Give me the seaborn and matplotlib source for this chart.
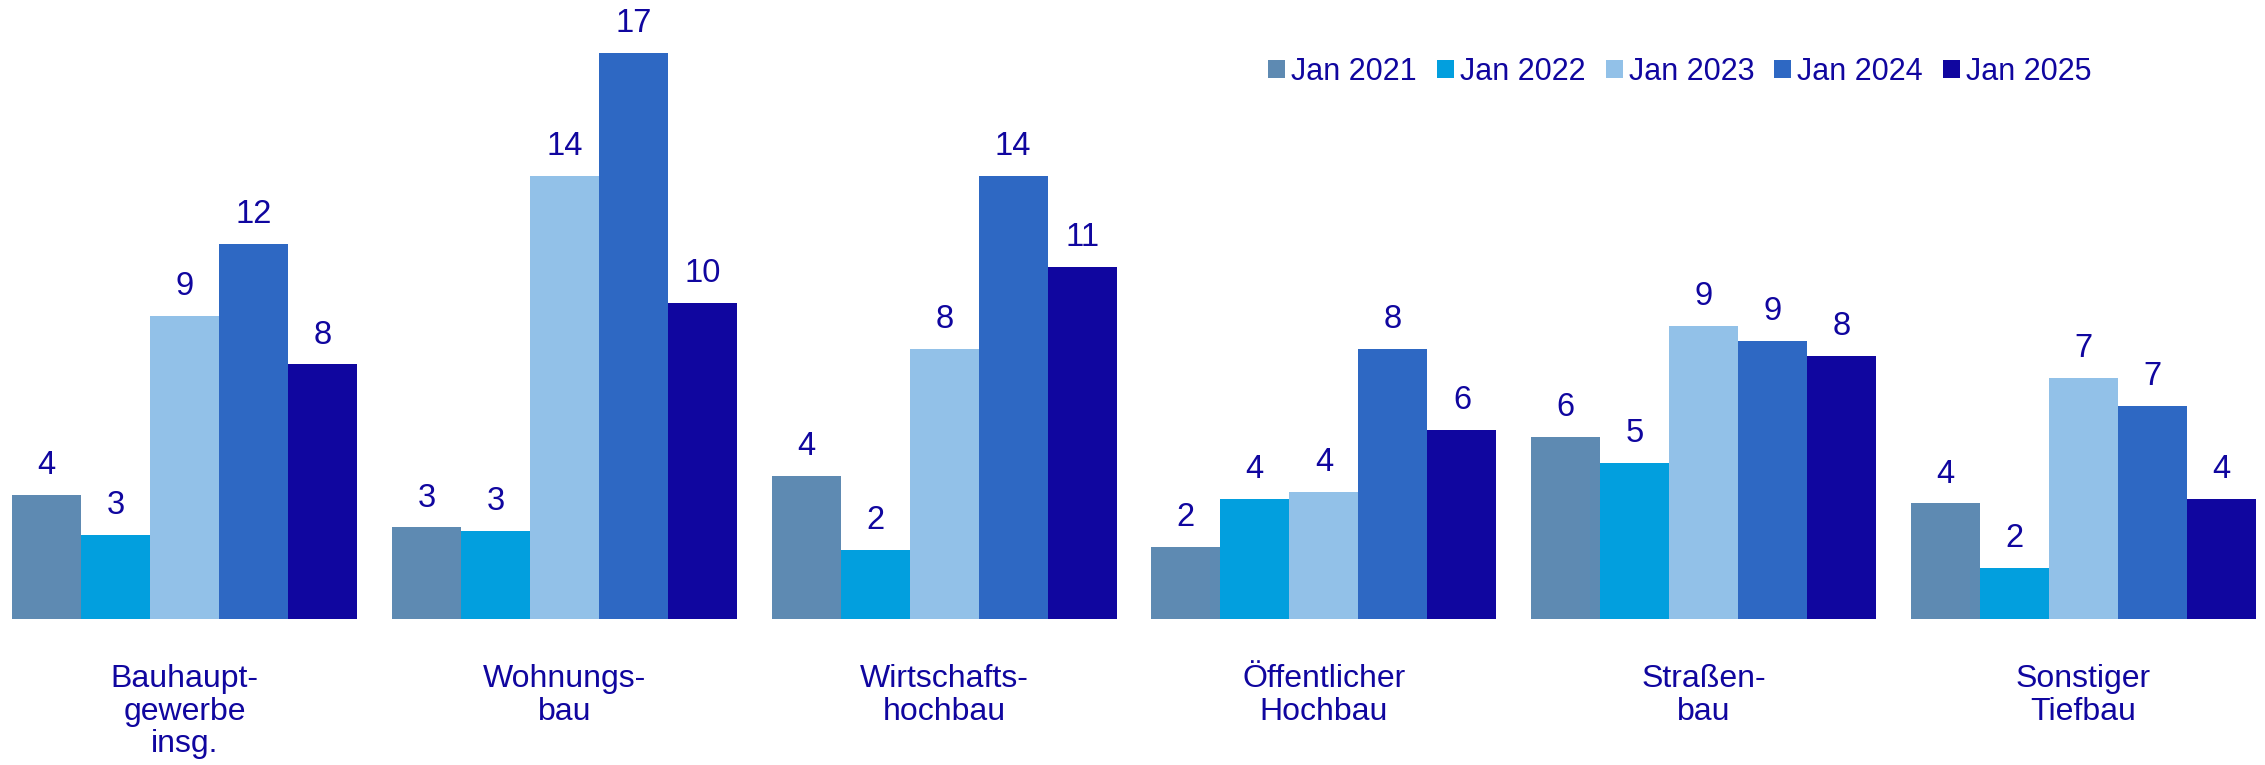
import matplotlib
matplotlib.use("Agg")
import matplotlib.pyplot as plt
import seaborn as sns
import pandas as pd

categories = ["Bauhaupt-\ngewerbe\ninsg.", "Wohnungs-\nbau", "Wirtschafts-\nhochbau",
              "Öffentlicher\nHochbau", "Straßen-\nbau", "Sonstiger\nTiefbau"]
series_names = ["Jan 2021", "Jan 2022", "Jan 2023", "Jan 2024", "Jan 2025"]
jan2021 = [3.81, 2.81, 4.41, 2.20, 5.61, 3.55]
jan2022 = [2.59, 2.71, 2.11, 3.70, 4.80, 1.55]
jan2023 = [9.33, 13.65, 8.32, 3.91, 9.03, 7.42]
jan2024 = [11.56, 17.45, 13.65, 8.32, 8.55, 6.55]
jan2025 = [7.84, 9.74, 10.84, 5.81, 8.11, 3.70]
colors = ["#5E8AB2", "#029FDE", "#92C1E8", "#2E68C3", "#10069F"]
text_color = "#10069F"

rows = []
for name, vals in zip(series_names, [jan2021, jan2022, jan2023, jan2024, jan2025]):
    for cat, v in zip(categories, vals):
        rows.append({"cat": cat, "val": v, "year": name})
df = pd.DataFrame(rows)

sns.set_theme(style="white")
plt.rcParams["font.family"] = ["Liberation Sans", "DejaVu Sans"]

fig = plt.figure(figsize=(22.65, 7.65), dpi=100)
ax = fig.add_axes([0, 0.1914, 1, 0.8086])

sns.barplot(data=df, x="cat", y="val", hue="year", order=categories,
            hue_order=series_names, palette=colors, width=0.909, gap=0,
            saturation=1, dodge=True, ax=ax, linewidth=0, errorbar=None)

for c in ax.containers:
    ax.bar_label(c, fmt="%.0f", padding=10, fontsize=23.5, color=text_color)

ax.set_xlim(-0.4867, 5.4786)
ax.set_ylim(0, 19.08)
for s in ax.spines.values():
    s.set_visible(False)
ax.set_yticks([])
ax.set_xlabel("")
ax.set_ylabel("")
ax.tick_params(axis="x", length=0, pad=33, labelsize=23, labelcolor=text_color)
for t in ax.get_xticklabels():
    t.set_linespacing(1.1)

handles, labels = ax.get_legend_handles_labels()
if ax.get_legend() is not None:
    ax.get_legend().remove()
leg = fig.legend(handles, labels, ncol=5, loc="center", bbox_to_anchor=(0.7417, 0.906),
                 bbox_transform=fig.transFigure, frameon=False, fontsize=22,
                 handlelength=0.56, handleheight=0.56, handletextpad=0.2,
                 columnspacing=0.65, borderpad=0)
for t in leg.get_texts():
    t.set_color(text_color)

fig.savefig("out.png", dpi=100)
